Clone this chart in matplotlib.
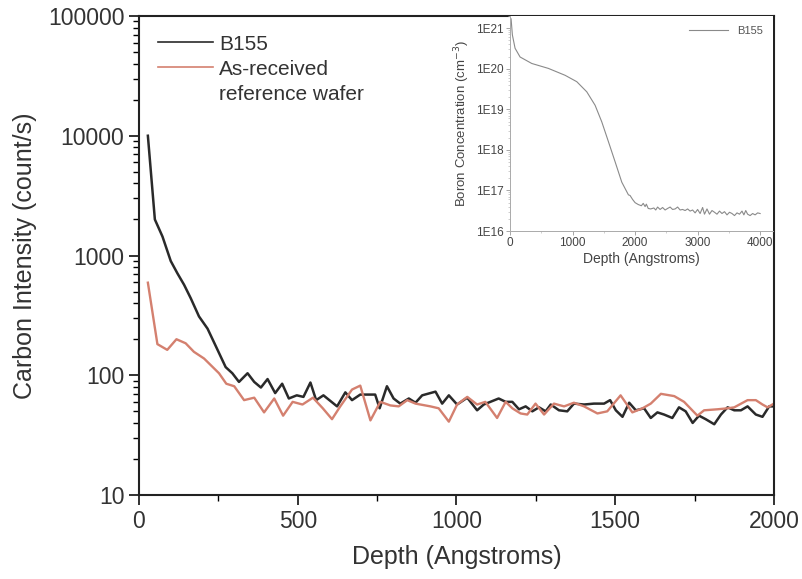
import matplotlib
matplotlib.use('Agg')
import matplotlib.pyplot as plt
import numpy as np
from matplotlib.ticker import LogLocator, FuncFormatter, NullFormatter, MultipleLocator
from matplotlib.lines import Line2D

plt.rcParams['font.family'] = ['Liberation Sans', 'DejaVu Sans']

# carbon depth profiles (main plot)
b155_depth = [28, 50, 74, 100, 121, 142, 163, 189, 216, 242, 273, 294, 315, 342, 363,
              384, 405, 429, 451, 472, 497, 518, 540, 558, 581, 624, 650, 671, 697, 744,
              758, 781, 802, 823, 850, 871, 892, 934, 955, 976, 1002, 1034, 1065, 1086,
              1133, 1155, 1176, 1197, 1218, 1239, 1260, 1281, 1297, 1323, 1349, 1370,
              1402, 1433, 1465, 1484, 1502, 1523, 1544, 1565, 1591, 1612, 1633, 1654,
              1680, 1701, 1722, 1744, 1764, 1785, 1812, 1833, 1854, 1875, 1896, 1917,
              1943, 1964, 1985, 2000]
b155_counts = [10000, 2000, 1440, 900, 710, 570, 440, 310, 245, 175, 117, 104, 88, 104, 88,
               79, 93, 71, 85, 64, 68, 66, 87, 62, 68, 55, 72, 62, 69, 69,
               53, 81, 64, 58, 64, 59, 68, 73, 58, 68, 57, 65, 51, 57,
               64, 60, 60, 52, 55, 50, 54, 50, 57, 51, 50, 58,
               57, 58, 58, 62, 51, 45, 59, 51, 53, 44, 49, 47,
               44, 54, 50, 40, 46, 43, 39, 47, 54, 51, 51, 55,
               47, 45, 55, 55]

ref_depth = [28, 58, 89, 118, 147, 173, 205, 231, 252, 275, 300, 331, 363, 394, 426,
             454, 484, 515, 548, 579, 608, 634, 671, 697, 729, 760, 792, 818, 845, 871,
             918, 944, 976, 1002, 1034, 1065, 1091, 1128, 1155, 1176, 1202, 1223, 1249,
             1276, 1307, 1339, 1370, 1402, 1444, 1475, 1517, 1554, 1586, 1612, 1644,
             1686, 1717, 1759, 1780, 1822, 1854, 1875, 1917, 1943, 1964, 1980, 2000]
ref_counts = [593, 182, 163, 200, 185, 157, 138, 118, 104, 85, 81, 62, 65, 49, 64,
              46, 60, 57, 65, 53, 43, 55, 76, 82, 42, 60, 56, 55, 62, 58,
              55, 53, 41, 57, 66, 57, 60, 44, 60, 53, 48, 47, 58,
              47, 58, 55, 59, 55, 48, 50, 68, 49, 53, 58, 70,
              67, 60, 46, 51, 52, 53, 54, 62, 62, 57, 54, 58]

# boron profile (inset)
boron_depth = [16, 37, 80, 160, 347, 613, 880, 1067, 1227, 1360, 1467, 1573, 1680, 1787,
               1893, 1920, 1960, 2000, 2050, 2100, 2130, 2160, 2180, 2210, 2250, 2300,
               2330, 2360, 2400, 2440, 2480, 2520, 2560, 2600, 2640, 2680, 2720, 2760,
               2800, 2840, 2880, 2920, 2960, 3000, 3040, 3080, 3110, 3150, 3190, 3230,
               3270, 3310, 3350, 3390, 3430, 3470, 3510, 3550, 3590, 3630, 3670, 3710,
               3740, 3770, 3800, 3840, 3880, 3920, 3960, 4000]
boron_conc = [1.7e21, 6.8e20, 3.2e20, 1.95e20, 1.35e20, 1.02e20, 6.9e19, 4.8e19, 2.7e19,
              1.26e19, 4.9e18, 1.6e18, 5.1e17, 1.6e17, 7.8e16, 7.5e16, 6.0e16, 5.0e16,
              4.5e16, 4.2e16, 4.8e16, 4.0e16, 4.6e16, 3.6e16, 3.5e16, 3.7e16, 3.3e16,
              3.9e16, 3.4e16, 3.8e16, 3.3e16, 3.6e16, 3.9e16, 3.4e16, 3.5e16, 3.9e16,
              3.3e16, 3.4e16, 3.2e16, 3.5e16, 3.1e16, 3.3e16, 2.8e16, 3.4e16, 2.7e16,
              3.8e16, 2.6e16, 3.5e16, 2.6e16, 3.2e16, 2.9e16, 2.6e16, 3.1e16, 2.7e16,
              3.0e16, 2.5e16, 2.9e16, 2.7e16, 2.4e16, 2.8e16, 2.6e16, 3.1e16, 2.5e16,
              3.2e16, 2.6e16, 2.4e16, 2.7e16, 2.5e16, 2.8e16, 2.7e16]

fig = plt.figure(figsize=(8.02, 5.79), dpi=100)
ax = fig.add_axes([0.1733, 0.145, 0.7917, 0.8274])
l1, = ax.plot(b155_depth, b155_counts, color='#2a2a2a', lw=1.8)
l2, = ax.plot(ref_depth, ref_counts, color='#d4806f', lw=1.7)
ax.set_yscale('log')
ax.set_xlim(0, 2000)
ax.set_ylim(10, 100000)
ax.xaxis.set_major_locator(MultipleLocator(500))
ax.xaxis.set_minor_locator(MultipleLocator(250))
ax.yaxis.set_major_locator(LogLocator(base=10))
ax.yaxis.set_minor_locator(LogLocator(base=10, subs=np.arange(2, 10)))
ax.yaxis.set_major_formatter(FuncFormatter(lambda v, p: f'{int(round(v))}'))
ax.yaxis.set_minor_formatter(NullFormatter())
ax.tick_params(which='major', direction='out', length=7, width=1.3, labelsize=16.5,
               colors='#222222', labelcolor='#333333')
ax.tick_params(which='minor', direction='out', length=4, width=1.0)
for s in ax.spines.values():
    s.set_linewidth(1.5)
    s.set_color('#222222')
ax.set_xlabel('Depth (Angstroms)', fontsize=18, color='#333333', labelpad=9)
ax.set_ylabel('Carbon Intensity (count/s)', fontsize=18, color='#333333')
ax.yaxis.set_label_coords(-0.16, 0.5)

blank = Line2D([], [], color='none')
leg = ax.legend([l1, l2, blank], ['B155', 'As-received', 'reference wafer'],
                loc='upper left', bbox_to_anchor=(0.0, 1.0), frameon=False, fontsize=15,
                handlelength=2.65, handletextpad=0.3, labelspacing=0.29, labelcolor='#333333')
for h in leg.get_lines():
    h.set_linewidth(1.2)

# inset
ins = fig.add_axes([0.636, 0.601, 0.328, 0.3714])
ins.plot(boron_depth, boron_conc, color='#8a8a8a', lw=0.8, label='B155')
ins.set_yscale('log')
ins.set_xlim(0, 4208)
ins.set_ylim(1e16, 2e21)
ins.xaxis.set_major_locator(MultipleLocator(1000))
ins.xaxis.set_minor_locator(MultipleLocator(500))
ins.yaxis.set_major_locator(LogLocator(base=10))
ins.yaxis.set_minor_locator(LogLocator(base=10, subs=np.arange(2, 10)))
ins.yaxis.set_major_formatter(FuncFormatter(lambda v, p: f'1E{int(round(np.log10(v)))}'))
ins.yaxis.set_minor_formatter(NullFormatter())
ins.tick_params(which='major', direction='out', length=3, width=0.6, labelsize=8.5,
                colors='#999999', labelcolor='#444444', pad=1.5)
ins.tick_params(which='minor', direction='out', length=1.5, width=0.5, colors='#bbbbbb')
for s in ['left', 'bottom']:
    ins.spines[s].set_color('#aaaaaa')
    ins.spines[s].set_linewidth(0.7)
for s in ['top', 'right']:
    ins.spines[s].set_visible(False)
ins.set_xlabel('Depth (Angstroms)', fontsize=10, color='#444444', labelpad=2)
ins.set_ylabel('Boron Concentration (cm$^{-3}$)', fontsize=9.5, color='#444444', labelpad=3)
ins.legend(loc='upper right', frameon=False, fontsize=8, handlelength=3.5, labelcolor='#555555')

fig.savefig('out.png', dpi=100)
